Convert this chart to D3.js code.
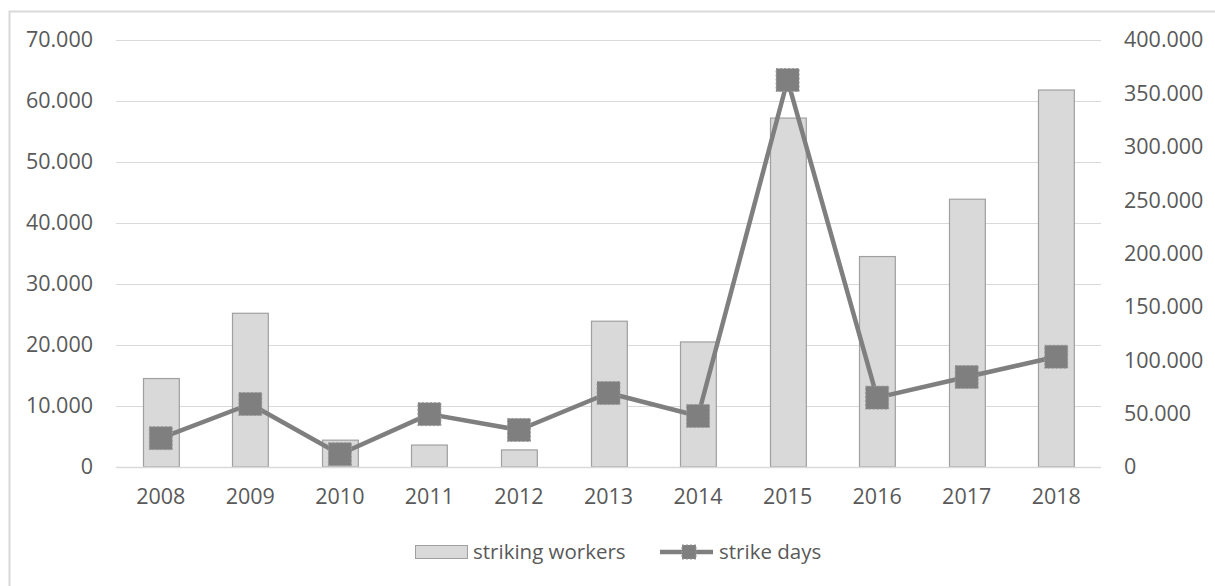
<!DOCTYPE html>
<html>
<head>
<meta charset="utf-8">
<script src="https://cdn.jsdelivr.net/npm/d3@7"></script>
<style>
  html, body { margin: 0; padding: 0; background: #fff; }
  svg { display: block; }
  text { font-family: "Open Sans", "Noto Sans", sans-serif; fill: #595959; }
</style>
</head>
<body>
<svg id="chart" width="1215" height="586"></svg>
<script>
// Strikes per year: workers involved (left axis) and strike days (right axis)
const years = ["2008", "2009", "2010", "2011", "2012", "2013", "2014", "2015", "2016", "2017", "2018"];
const strikingWorkers = [14500, 25200, 4400, 3600, 2800, 23900, 20500, 57200, 34500, 43900, 61800];
const strikeDays = [27000, 59000, 12000, 49500, 34700, 69300, 47800, 362500, 65000, 84300, 103300];
const leftTicks = [0, 10000, 20000, 30000, 40000, 50000, 60000, 70000];
const rightTicks = [0, 50000, 100000, 150000, 200000, 250000, 300000, 350000, 400000];
const seriesNames = ["striking workers", "strike days"];

const svg = d3.select("#chart");
const W = 1215, H = 586;
const plot = { left: 116, right: 1101, top: 40, bottom: 467 };
const FS = 21.5;

// thousands separated with a dot
const fmt = v => v === 0 ? "0" : d3.format(",")(v).replace(/,/g, ".");

// outer chart frame
svg.append("rect")
  .attr("x", 9.5).attr("y", 11.5)
  .attr("width", W).attr("height", H)
  .attr("fill", "none").attr("stroke", "#d9d9d9").attr("stroke-width", 2);

const x = d3.scaleBand().domain(years).range([plot.left, plot.right]).paddingInner(0.6).paddingOuter(0.3);
const xc = d => x(d) + x.bandwidth() / 2;
const yL = d3.scaleLinear().domain([0, 70000]).range([plot.bottom, plot.top]);
const yR = d3.scaleLinear().domain([0, 400000]).range([plot.bottom, plot.top]);

// horizontal gridlines
svg.append("g").selectAll("line").data(leftTicks).join("line")
  .attr("x1", plot.left).attr("x2", plot.right)
  .attr("y1", d => Math.round(yL(d)) + 0.5).attr("y2", d => Math.round(yL(d)) + 0.5)
  .attr("stroke", "#d9d9d9").attr("stroke-width", 1);

function styleAxis(g) {
  g.select(".domain").remove();
  g.selectAll("text").attr("font-size", FS).attr("fill", "#595959")
    .style("font-family", '"Open Sans", "Noto Sans", sans-serif');
}

// left axis labels
const gL = svg.append("g").attr("transform", "translate(93,0)")
  .call(d3.axisLeft(yL).tickValues(leftTicks).tickFormat(fmt).tickSize(0).tickPadding(0));
styleAxis(gL);

// right axis labels
const gR = svg.append("g").attr("transform", "translate(1124,0)")
  .call(d3.axisRight(yR).tickValues(rightTicks).tickFormat(fmt).tickSize(0).tickPadding(0));
styleAxis(gR);

// category labels
const gB = svg.append("g").attr("transform", `translate(0,${plot.bottom + 22})`)
  .call(d3.axisBottom(x).tickSize(0).tickPadding(0));
styleAxis(gB);

// bars: striking workers
svg.append("g").selectAll("rect").data(years).join("rect")
  .attr("x", d => Math.round(x(d)) + 0.5)
  .attr("y", (d, i) => yL(strikingWorkers[i]))
  .attr("width", x.bandwidth())
  .attr("height", (d, i) => plot.bottom - yL(strikingWorkers[i]))
  .attr("fill", "#d9d9d9").attr("stroke", "#a0a0a0").attr("stroke-width", 1.2);

// baseline
svg.append("line")
  .attr("x1", plot.left).attr("x2", plot.right)
  .attr("y1", plot.bottom + 0.5).attr("y2", plot.bottom + 0.5)
  .attr("stroke", "#d9d9d9").attr("stroke-width", 1.5);

// line: strike days
const line = d3.line().x((d, i) => xc(years[i])).y(d => yR(d));
svg.append("path").datum(strikeDays)
  .attr("d", line)
  .attr("fill", "none").attr("stroke", "#7f7f7f").attr("stroke-width", 4.5)
  .attr("stroke-linejoin", "round");

const m = 23;
svg.append("g").selectAll("rect").data(strikeDays).join("rect")
  .attr("x", (d, i) => xc(years[i]) - m / 2)
  .attr("y", d => yR(d) - m / 2)
  .attr("width", m).attr("height", m)
  .attr("fill", "#7f7f7f").attr("stroke", "#9a9a9a").attr("stroke-width", 1)
  .attr("stroke-dasharray", "2,2");

// legend
const lg = svg.append("g");
lg.append("rect").attr("x", 415.5).attr("y", 545.5).attr("width", 52).attr("height", 13)
  .attr("fill", "#d9d9d9").attr("stroke", "#a0a0a0").attr("stroke-width", 1);
lg.append("text").attr("x", 473).attr("y", 559).attr("font-size", 20.5).text(seriesNames[0]);
lg.append("line").attr("x1", 660).attr("x2", 713).attr("y1", 552).attr("y2", 552)
  .attr("stroke", "#7f7f7f").attr("stroke-width", 4.5);
lg.append("rect").attr("x", 682).attr("y", 545).attr("width", 14).attr("height", 14)
  .attr("fill", "#7f7f7f").attr("stroke", "#9a9a9a").attr("stroke-width", 1).attr("stroke-dasharray", "2,2");
lg.append("text").attr("x", 719).attr("y", 559).attr("font-size", 20.5).text(seriesNames[1]);
</script>
</body>
</html>
